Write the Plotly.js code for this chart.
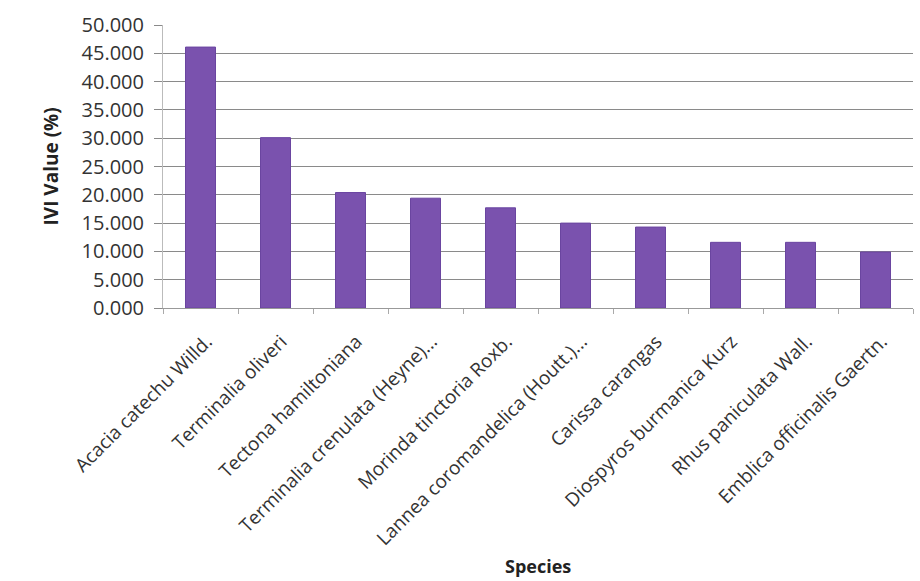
<!DOCTYPE html>
<html>
<head>
<meta charset="utf-8">
<script src="https://cdn.plot.ly/plotly-3.0.1.min.js"></script>
<style>body{margin:0;background:#fff}#chart{width:920px;height:581px}</style>
</head>
<body>
<div id="chart"></div>
<script>
const species = [
  "Acacia catechu Willd.",
  "Terminalia oliveri",
  "Tectona hamiltoniana",
  "Terminalia crenulata (Heyne)...",
  "Morinda tinctoria Roxb.",
  "Lannea coromandelica (Houtt.)...",
  "Carissa carangas",
  "Diospyros burmanica Kurz",
  "Rhus paniculata Wall.",
  "Emblica officinalis Gaertn."
];
const iviValues = [46.1, 30.1, 20.4, 19.4, 17.7, 15.0, 14.3, 11.6, 11.6, 9.9];
const yTickVals = [0, 5, 10, 15, 20, 25, 30, 35, 40, 45, 50];
const yTickText = ["0.000","5.000","10.000","15.000","20.000","25.000","30.000","35.000","40.000","45.000","50.000"];
const xTitle = "Species";
const yTitle = "IVI Value (%)";

const trace = {
  type: 'bar',
  x: species,
  y: iviValues,
  width: 0.4,
  marker: {color: '#7A52AE', line: {color: '#6A45A0', width: 1}},
  hoverinfo: 'x+y'
};

const layout = {
  width: 920, height: 581,
  margin: {l: 163, r: 7, t: 25, b: 273},
  paper_bgcolor: '#fff', plot_bgcolor: '#fff',
  showlegend: false,
  font: {family: '"Open Sans", sans-serif', color: '#333'},
  xaxis: {
    tickangle: -45,
    tickfont: {size: 19, family: '"Open Sans", sans-serif', color: '#333'},
    showgrid: false,
    showline: true, linecolor: '#999', linewidth: 1,
    ticks: 'outside', ticklen: 5, tickcolor: '#aaa',
    tickson: 'boundaries',
    ticklabelstandoff: 14,
    ticklabelshift: 6,
    automargin: false
  },
  yaxis: {
    range: [0, 50],
    tickvals: yTickVals, ticktext: yTickText,
    tickfont: {size: 20, family: '"Open Sans", sans-serif', color: '#333'},
    showgrid: true, gridcolor: '#8a8a8a', gridwidth: 1,
    showline: true, linecolor: '#bbb', linewidth: 1,
    ticks: 'outside', ticklen: 8, tickcolor: '#8a8a8a',
    ticklabelstandoff: 6,
    zeroline: false,
    automargin: false
  },
  annotations: [
    {text: '<b>' + xTitle + '</b>', xref: 'paper', yref: 'paper', x: 0.5, y: 0, yshift: -258,
     showarrow: false, xanchor: 'center', yanchor: 'middle',
     font: {size: 18, family: '"Open Sans", sans-serif', color: '#222'}},
    {text: '<b>' + yTitle + '</b>', xref: 'paper', yref: 'paper', x: 0, xshift: -113, y: 0.5,
     showarrow: false, xanchor: 'center', yanchor: 'middle', textangle: -90,
     font: {size: 19, family: '"Open Sans", sans-serif', color: '#222'}}
  ]
};

Plotly.newPlot('chart', [trace], layout, {displayModeBar: false, staticPlot: true});
</script>
</body>
</html>
